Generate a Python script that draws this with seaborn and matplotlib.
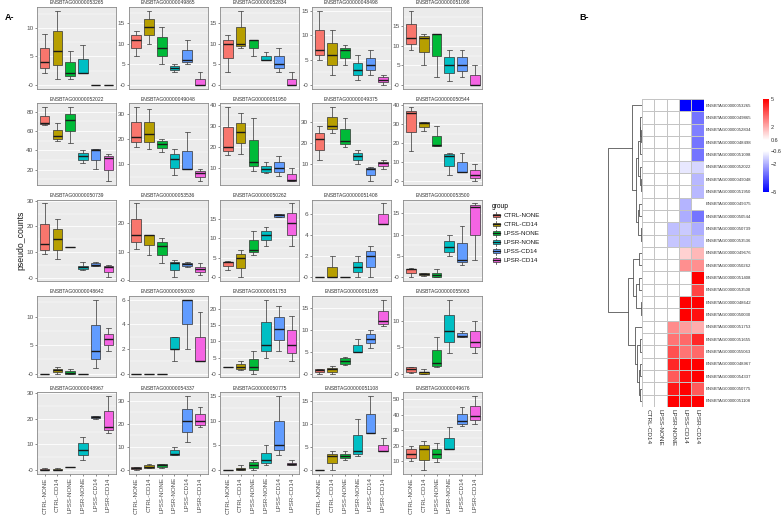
import numpy as np
import pandas as pd
import matplotlib
matplotlib.use("Agg")
import matplotlib.pyplot as plt
import seaborn as sns
from matplotlib.colors import LinearSegmentedColormap
from matplotlib.patches import Rectangle, Patch
from matplotlib.lines import Line2D
from matplotlib.legend_handler import HandlerBase

plt.rcParams['font.family'] = ['Liberation Sans', 'DejaVu Sans']

# ---------------- data ----------------
genes = ["ENSBTAG00000053265", "ENSBTAG00000049865", "ENSBTAG00000052834", "ENSBTAG00000048498", "ENSBTAG00000051098",
         "ENSBTAG00000052022", "ENSBTAG00000049048", "ENSBTAG00000051950", "ENSBTAG00000049375", "ENSBTAG00000050544",
         "ENSBTAG00000050739", "ENSBTAG00000053536", "ENSBTAG00000050262", "ENSBTAG00000051408", "ENSBTAG00000053500",
         "ENSBTAG00000048642", "ENSBTAG00000050030", "ENSBTAG00000051753", "ENSBTAG00000051655", "ENSBTAG00000055063",
         "ENSBTAG00000048967", "ENSBTAG00000054337", "ENSBTAG00000050775", "ENSBTAG00000051108", "ENSBTAG00000049676"]
groups = ["CTRL-NONE", "CTRL-CD14", "LPSS-NONE", "LPSR-NONE", "LPSS-CD14", "LPSR-CD14"]
group_colors = ["#F8766D", "#B79F00", "#00BA38", "#00BFC4", "#619CFF", "#F564E3"]

# five-number summaries (min, q1, median, q3, max) per group
g053265 = [[2, 3, 4, 6.5, 9], [1, 3.5, 6, 9.5, 13], [1, 1.5, 2, 4, 6], [2, 2, 2, 4.5, 7], [0, 0, 0, 0, 0], [0, 0, 0, 0, 0]]
g049865 = [[7, 9, 11, 12, 13], [10, 12, 14, 16, 18], [5, 7, 9, 11.5, 14], [3, 3.5, 4, 4.5, 5], [5, 5.5, 6, 8.5, 11], [0, 0, 0, 1.5, 3]]
g052834 = [[3, 6.5, 10, 11, 12], [9, 9.5, 10, 14, 18], [7, 9, 11, 11, 11], [6, 6, 6, 7, 8], [3, 4, 5, 7, 9], [0, 0, 0, 1.5, 3]]
g048498 = [[5, 6, 7, 11, 15], [2, 4, 6, 8.5, 11], [4, 5.5, 7, 7.5, 8], [1, 2, 3, 4.5, 6], [2, 3, 4, 5.5, 7], [0, 0.5, 1, 1.5, 2]]
g051098 = [[9, 10.5, 12, 15.5, 19], [5, 8.5, 12, 12.5, 13], [2, 7.5, 13, 13, 13], [1, 3, 5, 7, 9], [2, 3.5, 5, 7, 9], [0, 0, 0, 2.5, 5]]
g052022 = [[66.5, 67, 68, 76, 85], [50, 52, 55, 61, 68], [48, 60, 71.5, 78, 84.5], [27, 30, 34.5, 37, 40], [21, 30, 40, 41, 41], [8, 20, 32, 34, 36]]
g049048 = [[17, 19, 21, 27, 33], [16, 19, 22, 27, 32], [15, 16.5, 18, 19.5, 20], [5.5, 8.5, 12, 14, 16], [7.9, 8, 8, 15.5, 23], [3.2, 5, 6.5, 7.2, 8]]
g051950 = [[16.5, 18, 20, 29.5, 39], [17, 22, 27, 31.5, 36], [9, 11, 13, 23.5, 34], [7.8, 8.3, 9.5, 11, 12.8], [6.6, 8.3, 10, 13, 16], [4, 4, 4.4, 7.3, 10]]
g049375 = [[12, 17, 22, 25, 28], [25, 26.5, 28, 32.5, 37], [18.4, 19.5, 21, 26.5, 32], [10, 12, 14, 15.5, 17], [2.2, 5, 8, 8.4, 9], [8, 9.4, 10.5, 11.4, 12]]
g050544 = [[16, 26, 36, 37, 39], [26.5, 28.5, 30.5, 31.2, 31.2], [18.5, 18.5, 19, 24, 29], [3, 8, 13.4, 14, 15], [5, 5, 5, 10, 15], [0, 1.6, 3, 6, 9]]
g050739 = [[9.4, 11, 13, 21, 29], [7.4, 11, 15, 19, 23], [12, 12, 12, 12, 12], [3, 3.6, 4.2, 4.8, 6], [4.8, 4.8, 5.2, 5.7, 6], [0.2, 2.2, 4.2, 4.8, 5.2]]
g053536 = [[11, 13.5, 16, 21.5, 27], [9, 12.3, 16, 16, 16], [6, 9, 12, 13.5, 15], [1, 3.5, 6, 6.5, 7], [4.5, 5, 5.8, 6.1, 6.5], [2, 3, 4, 4.8, 6]]
g050262 = [[2, 3, 4, 4, 4.2], [0, 2.5, 5, 6, 7], [5.7, 6.5, 7, 9.5, 12], [8, 9.6, 11, 12, 13], [15.5, 15.6, 15.9, 16.2, 16.2], [8, 11, 14, 16.6, 19]]
g051408 = [[0, 0, 0, 0, 0], [0, 0, 0, 1, 2], [0, 0, 0, 0, 0], [0, 0.5, 1, 1.5, 2], [0, 1, 2, 2.5, 3], [5, 5, 5, 6, 7]]
g053500 = [[0, 1, 2, 2, 2.1], [0.3, 0.5, 0.9, 1, 1.1], [0, 0, 0.5, 1, 2], [5, 6, 7, 8.5, 10], [3, 3.5, 4, 8, 12], [4, 10, 16.5, 17, 17.3]]
g048642 = [[0, 0, 0, 0, 0], [0, 0.3, 0.7, 0.9, 1.2], [0, 0, 0.2, 0.4, 0.8], [0, 0, 0, 0, 0], [1, 2.5, 4, 8.5, 13], [4, 5, 6, 7, 8]]
g050030 = [[0, 0, 0, 0, 0], [0, 0, 0, 0, 0], [0, 0, 0, 0, 0], [1, 2, 2, 3, 3], [2, 4, 6, 6, 6], [1, 1, 1, 3, 5]]
g051753 = [[2, 2, 2, 2, 2], [1, 1.5, 2, 3, 4], [0, 1, 2, 4.5, 7], [5, 7, 9, 16, 23], [7, 10.5, 14, 17.5, 21], [4, 6.5, 9, 13.5, 18]]
g051655 = [[0, 0.4, 0.8, 1, 1], [0, 0.4, 1, 1.4, 1.8], [2, 2.3, 3, 3.5, 3.8], [5, 5, 5, 6.5, 8], [6, 7, 8, 9, 10], [11, 11.5, 12, 14.5, 17]]
g055063 = [[0.2, 0.4, 0.9, 1.2, 1.2], [0, 0, 0.3, 0.4, 0.9], [1.2, 1.4, 2, 4.4, 7], [4, 6, 8, 11, 14], [6.9, 6.9, 7.2, 7.7, 8], [4, 5, 6, 8, 10]]
g048967 = [[0, 0, 0, 0.4, 0.7], [0, 0, 0.1, 0.4, 0.7], [1, 1, 1, 1.1, 1.2], [4, 6, 8, 10.5, 13], [20, 20.3, 20.8, 21.2, 21.3], [14.5, 15.5, 17, 23, 29]]
g054337 = [[0, 0.5, 0.8, 1.2, 1.3], [0.9, 0.9, 1.3, 2, 2.7], [1, 1.3, 2, 2.6, 2.6], [6.3, 6.5, 7, 8.5, 10], [12, 16.5, 21, 26.5, 32], [18.5, 19.6, 21, 24, 27]]
g050775 = [[0, 0, 0, 0, 0], [0, 0, 0.2, 0.5, 1], [0, 0.5, 1, 1.7, 2], [1, 1.5, 2, 3.5, 5], [3, 4, 5, 10, 15], [1, 1, 1.2, 1.5, 2]]
g051108 = [[0, 0, 0, 0, 0], [0, 1.5, 3, 3.5, 4], [2.2, 2.5, 3, 3.5, 4], [3, 3.5, 4, 7.5, 11], [8, 8, 8, 12, 16], [4, 4, 4, 5.5, 7]]
g049676 = [[10, 12, 15, 18, 20], [4.5, 11, 18, 20.5, 23], [9.4, 12, 15, 18, 22], [17.7, 17.7, 18, 25, 32], [32.5, 34, 36, 40.5, 44.7], [34, 36.8, 39, 45.7, 52]]

panel_data = [g053265, g049865, g052834, g048498, g051098, g052022, g049048, g051950, g049375, g050544,
              g050739, g053536, g050262, g051408, g053500, g048642, g050030, g051753, g051655, g055063,
              g048967, g054337, g050775, g051108, g049676]
tick_steps = [5, 5, 5, 5, 5, 20, 10, 10, 10, 10, 10, 10, 5, 2, 5, 5, 2, 5, 5, 5, 10, 10, 5, 5, 10]

# panel B heatmap (rows in clustered order), log fold change vs CTRL-NONE
hm_genes = ["ENSBTAG00000053265", "ENSBTAG00000049865", "ENSBTAG00000052834", "ENSBTAG00000048498",
            "ENSBTAG00000051098", "ENSBTAG00000052022", "ENSBTAG00000049048", "ENSBTAG00000051950",
            "ENSBTAG00000049375", "ENSBTAG00000050544", "ENSBTAG00000050739", "ENSBTAG00000053536",
            "ENSBTAG00000049676", "ENSBTAG00000050262", "ENSBTAG00000051408", "ENSBTAG00000053500",
            "ENSBTAG00000048642", "ENSBTAG00000050030", "ENSBTAG00000051753", "ENSBTAG00000051655",
            "ENSBTAG00000055063", "ENSBTAG00000048967", "ENSBTAG00000054337", "ENSBTAG00000050775",
            "ENSBTAG00000051108"]
hm_columns = ["CTRL-CD14", "LPSS-NONE", "LPSR-NONE", "LPSS-CD14", "LPSR-CD14"]
hm_ctrl_cd14 = [0] * 25
hm_lpss_none = [0] * 25
hm_lpsr_none = [0, 0, 0, 0, 0, 0, 0, 0, 0, 0, -1.7, -1.6, 0, 0, 0, 0, 0, 0, 2.6, 3.0, 3.6, 4.3, 3.4, 4.6, 5]
hm_lpss_cd14 = [-5, 0, 0, 0, 0, -1.0, 0, 0, -1.9, -2.0, -1.5, -1.7, 1.4, 2.5, 0, 0, 5, 5, 2.3, 3.2, 3.0, 5, 4.8, 5, 5]
hm_lpsr_cd14 = [-5, -3.0, -2.8, -3.0, -3.0, -1.3, -1.8, -1.8, 0, -3.0, -2.0, -1.7, 1.8, 2.5, 5, 3.8, 5, 4.7, 2.0, 4.3, 3.2, 5, 5, 3.4, 5]
cbar_ticks = [5, 2, 0.6, -0.6, -2, -5]
cbar_labels = ["5", "2", "0.6", "\u22120.6", "\u22122", "\u22125"]

# row dendrogram (merges of heatmap rows 0..24 / earlier nodes 25..), heights
dn_left = [2, 1, 26, 6, 5, 27, 8, 10, 31, 30, 0, 12, 14, 16, 37, 36, 19, 21, 23, 42, 41, 18, 40, 35]
dn_right = [3, 25, 4, 7, 28, 29, 9, 11, 32, 33, 34, 13, 15, 17, 38, 39, 20, 22, 24, 43, 44, 45, 46, 47]
dn_height = [0.3, 0.45, 0.6, 0.15, 0.7, 1.1, 1.0, 0.35, 1.3, 1.7, 3.0, 0.9, 1.0, 0.2, 1.9, 2.6,
             0.6, 0.7, 0.6, 1.0, 1.4, 2.0, 4.2, 10.0]

# ---------------- figure ----------------
W, H = 784, 515
fig = plt.figure(figsize=(W / 100, H / 100), dpi=100)


def fax(l, t, w, h):
    return fig.add_axes([l / W, 1 - (t + h) / H, w / W, h / H])


rows = []
for g, data in zip(genes, panel_data):
    for grp, vals in zip(groups, data):
        for v in vals:
            rows.append((g, grp, v))
df = pd.DataFrame(rows, columns=["gene", "group", "pseudo_counts"])
palette = dict(zip(groups, group_colors))

for i, g in enumerate(genes):
    r, c = divmod(i, 5)
    ax = fax(37 + c * 91.6, 7 + r * 96.3, 79, 81.5)
    sub = df[df.gene == g]
    sns.boxplot(data=sub, x="group", y="pseudo_counts", hue="group", order=groups, hue_order=groups,
                palette=palette, saturation=1, width=0.75, whis=(0, 100), showfliers=False,
                linewidth=0.5, linecolor="#333333",
                medianprops=dict(color="#1A1A1A", linewidth=1.0), legend=False, ax=ax)
    lo, hi = sub.pseudo_counts.min(), sub.pseudo_counts.max()
    pad = 0.05 * (hi - lo)
    y0, y1 = lo - pad, hi + pad
    ax.set_xlim(-0.6, 5.6)
    ax.set_ylim(y0, y1)
    st = tick_steps[i]
    major = np.arange(np.ceil(y0 / st) * st, y1 + 1e-9, st)
    minor = np.arange(np.floor(y0 / st) * st + st / 2, y1, st)
    minor = minor[(minor > y0) & (minor < y1)]
    ax.set_yticks(major)
    ax.set_yticklabels([f"{v:g}" for v in major])
    ax.set_yticks(minor, minor=True)
    ax.set_facecolor("#EBEBEB")
    ax.set_axisbelow(True)
    ax.grid(which="major", axis="y", color="white", linewidth=0.6)
    ax.grid(which="minor", axis="y", color="white", linewidth=0.3)
    ax.grid(axis="x", visible=False)
    for s in ax.spines.values():
        s.set_color("#8A8A8A")
        s.set_linewidth(0.6)
    ax.tick_params(axis="y", which="major", length=1.5, width=0.4, color="#333333",
                   labelsize=4.6, labelcolor="#4D4D4D", pad=1)
    ax.tick_params(axis="y", which="minor", length=0)
    ax.set_xlabel("")
    ax.set_ylabel("")
    if r == 4:
        ax.set_xticks(range(len(groups)))
        ax.set_xticklabels(groups, rotation=90)
        ax.tick_params(axis="x", length=1.5, width=0.4, color="#333333", labelsize=4.5,
                       labelcolor="#4D4D4D", pad=1)
    else:
        ax.tick_params(axis="x", length=0, labelbottom=False)
    ax.set_title(g, fontsize=3.6, pad=1.8, color="#333333")

fig.text(21 / W, 1 - 240 / H, "pseudo_counts", rotation=90, ha="center", va="center",
         fontsize=6.3, color="#1A1A1A")
fig.text(5 / W, 1 - 17 / H, "A-", fontsize=6.5, fontweight="bold", ha="left", va="center")
fig.text(579 / W, 1 - 17 / H, "B-", fontsize=6.5, fontweight="bold", ha="left", va="center")


class BoxKey(HandlerBase):
    def create_artists(self, legend, orig_handle, xdescent, ydescent, width, height, fontsize, trans):
        fc = orig_handle.get_facecolor()
        bx0 = -xdescent + width * 0.1
        bw = width * 0.8
        by0 = -ydescent + height * 0.25
        bh = height * 0.5
        cx = -xdescent + width / 2
        w1 = Line2D([cx, cx], [-ydescent, by0], color="#333333", lw=0.5, transform=trans)
        w2 = Line2D([cx, cx], [by0 + bh, -ydescent + height], color="#333333", lw=0.5, transform=trans)
        rect = Rectangle((bx0, by0), bw, bh, facecolor=fc, edgecolor="#333333", lw=0.5, transform=trans)
        med = Line2D([bx0, bx0 + bw], [by0 + bh / 2] * 2, color="#1A1A1A", lw=0.9, transform=trans)
        return [w1, w2, rect, med]


handles = [Patch(facecolor=col, label=grp) for grp, col in zip(groups, group_colors)]
leg = fig.legend(handles=handles, title="group", loc="upper left", bbox_to_anchor=(492 / W, 1 - 203 / H),
                 frameon=False, fontsize=4.5, title_fontsize=4.8, handlelength=1.4, handleheight=1.4,
                 labelspacing=0.28, handletextpad=0.5, borderpad=0, borderaxespad=0, alignment="left",
                 handler_map={Patch: BoxKey()})
for t in leg.get_texts():
    t.set_color("#1A1A1A")

# ---------------- panel B ----------------
hm = pd.DataFrame({hm_columns[0]: hm_ctrl_cd14, hm_columns[1]: hm_lpss_none, hm_columns[2]: hm_lpsr_none,
                   hm_columns[3]: hm_lpss_cd14, hm_columns[4]: hm_lpsr_cd14}, index=hm_genes)
cmap = LinearSegmentedColormap.from_list("bwr_pheat", [(0.0, "#0000FF"), (0.44, "#FFFFFF"),
                                                       (0.56, "#FFFFFF"), (1.0, "#FF0000")])
hax = fax(642, 99, 61.5, 308)
cax = fax(763, 99, 6, 93)
sns.heatmap(hm, ax=hax, cmap=cmap, vmin=-5, vmax=5, cbar_ax=cax, linewidths=0.4, linecolor="#C4C4C4",
            xticklabels=True, yticklabels=True)
hax.yaxis.tick_right()
hax.set_yticks(np.arange(len(hm_genes)) + 0.5)
hax.set_yticklabels(hm_genes, rotation=0, fontsize=3.1, color="#333333")
hax.set_xticklabels(hm_columns, rotation=270, fontsize=4.6, color="#333333", ha="center", va="top")
hax.tick_params(axis="both", length=0, pad=1.5)
hax.set_xlabel("")
hax.set_ylabel("")
cb = hax.collections[0].colorbar
cb.set_ticks(cbar_ticks)
cb.set_ticklabels(cbar_labels)
cb.outline.set_visible(False)
cax.tick_params(length=0, labelsize=4, pad=1.5, labelcolor="#333333")

dax = fax(607, 99, 35, 308)
pos = {k: k + 0.5 for k in range(len(hm_genes))}
hgt = {k: 0.0 for k in range(len(hm_genes))}
for k, (l, rr, h) in enumerate(zip(dn_left, dn_right, dn_height)):
    nid = len(hm_genes) + k
    yl, yr = pos[l], pos[rr]
    dax.plot([hgt[l], h, h, hgt[rr]], [yl, yl, yr, yr], color="#555555", lw=0.6)
    pos[nid] = (yl + yr) / 2
    hgt[nid] = h
dax.set_xlim(10.3, 0)
dax.set_ylim(len(hm_genes), 0)
dax.axis("off")

fig.savefig("out.png", dpi=100)
